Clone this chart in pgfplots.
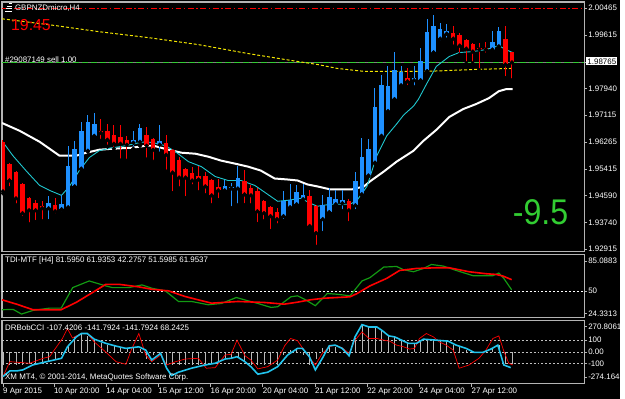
\documentclass[border=0pt]{standalone}
\usepackage{pgfplots}
\pgfplotsset{compat=1.18}
\usepackage{pgfplotstable}
\usepackage{fontspec}
\setmainfont{Liberation Sans}
\definecolor{bullc}{HTML}{1E90FF}
\definecolor{bearc}{HTML}{FF0000}
\definecolor{cyanma}{HTML}{20C8D0}
\definecolor{tdigreen}{HTML}{139A13}
\definecolor{ccicyan}{HTML}{22C4EE}
\definecolor{limeg}{HTML}{32CD32}
\definecolor{framegray}{HTML}{B4B4B4}
\definecolor{histgray}{HTML}{B8B8B8}
\newcommand{\fsm}{\fontsize{8}{9}\selectfont}

\pgfplotstableread{
i o h l c
0 1.96271 1.96333 1.94655 1.94717
1 1.95587 1.95619 1.94811 1.95059
2 1.95339 1.95370 1.94283 1.94500
3 1.94935 1.94966 1.93879 1.94034
4 1.94500 1.94531 1.93692 1.94127
5 1.94345 1.94438 1.93754 1.94127
6 1.94251 1.94407 1.93785 1.94189
8 1.94283 1.94500 1.93972 1.94096
15 1.96613 1.96986 1.96302 1.96551
16 1.96613 1.96830 1.96116 1.96333
17 1.96488 1.96799 1.96053 1.96209
18 1.96426 1.96799 1.95681 1.96209
19 1.96333 1.96457 1.95681 1.96178
22 1.96488 1.96737 1.95712 1.96147
23 1.96364 1.96395 1.95650 1.96022
25 1.96240 1.96488 1.95339 1.95867
26 1.96022 1.96053 1.94655 1.95308
27 1.95712 1.95805 1.94811 1.95152
28 1.95432 1.95463 1.94500 1.95152
29 1.95308 1.95494 1.94873 1.95059
30 1.95215 1.95525 1.94686 1.95090
31 1.95184 1.95339 1.94593 1.94873
32 1.95059 1.95090 1.94283 1.94593
33 1.94842 1.95121 1.94438 1.94749
37 1.95028 1.95401 1.94283 1.94624
38 1.94811 1.94904 1.94283 1.94593
39 1.94717 1.94811 1.93692 1.94096
40 1.94407 1.94438 1.93785 1.94034
41 1.94220 1.94251 1.93475 1.93941
42 1.94065 1.94189 1.93661 1.93848
47 1.94562 1.94749 1.93506 1.93630
48 1.94251 1.94283 1.92978 1.93413
53 1.94407 1.94469 1.93723 1.94127
62 1.98259 1.98570 1.97980 1.98166
69 1.99689 1.99906 1.99254 1.99502
70 1.99627 1.99689 1.99005 1.99285
71 1.99471 1.99502 1.98726 1.99192
72 1.99347 1.99378 1.98726 1.99098
73 1.99223 1.99378 1.98508 1.99160
74 1.99223 1.99409 1.99005 1.99160
77 1.99502 1.99906 1.98259 1.98694
78 1.99098 1.99098 1.98197 1.98757
}\bear

\pgfplotstableread{
i o h l c
7 1.94189 1.94562 1.93785 1.94345
9 1.94158 1.94593 1.94034 1.94314
10 1.94220 1.96147 1.94189 1.95525
11 1.94873 1.96302 1.94842 1.96053
12 1.95432 1.96892 1.95401 1.96613
13 1.95991 1.97110 1.95960 1.96892
14 1.96457 1.97172 1.96426 1.96830
20 1.96240 1.96613 1.96053 1.96333
21 1.96271 1.96830 1.96147 1.96706
24 1.96178 1.96799 1.95898 1.96302
34 1.94749 1.95059 1.94686 1.94873
35 1.94811 1.94966 1.94189 1.94842
36 1.94811 1.95525 1.94283 1.95152
43 1.93941 1.94717 1.93785 1.94407
44 1.94220 1.94935 1.94189 1.94438
45 1.94314 1.94904 1.94283 1.94686
46 1.94469 1.94935 1.94407 1.94593
49 1.93848 1.94593 1.93413 1.94283
50 1.94065 1.94811 1.94034 1.94531
51 1.94314 1.94749 1.94283 1.94469
52 1.94345 1.94749 1.94096 1.94438
54 1.94283 1.95339 1.94096 1.95028
55 1.94624 1.96395 1.94593 1.95805
56 1.95215 1.96364 1.95184 1.96053
57 1.95619 1.97949 1.95587 1.97358
58 1.96457 1.98353 1.96426 1.98042
59 1.97234 1.98632 1.97203 1.98011
60 1.97607 1.99098 1.97576 1.98508
61 1.98042 1.98632 1.98011 1.98446
63 1.98197 1.98632 1.97980 1.98259
64 1.98197 1.99223 1.98166 1.98788
65 1.98477 2.00124 1.98477 1.99720
66 1.99067 2.00248 1.99067 1.99906
67 1.99502 1.99999 1.99378 1.99813
68 1.99658 1.99968 1.99471 1.99751
75 1.99160 1.99751 1.99098 1.99409
76 1.99254 1.99875 1.99254 1.99751
}\bull

\pgfplotsset{
  mtbase/.style={
    scale only axis, width=587pt, xmin=-0.15, xmax=89.06,
    axis line style={framegray, line width=1.2pt},
    tick style={framegray, line width=0.6pt},
    major tick length=3pt, tick align=outside,
    xtick=\empty, ytick pos=right, yticklabel pos=right,
    yticklabel style={font=\fsm, text=white, inner sep=1pt},
    anchor=south west,
  },
  wick/.style={only marks, mark=none, forget plot,
    error bars/.cd, y dir=plus, y explicit, error mark=none,
    error bar style={#1, line width=1pt}},
  body/.style={only marks, mark=none, forget plot,
    error bars/.cd, y dir=plus, y explicit, error mark=none,
    error bar style={#1, line width=4.6pt}},
}

\begin{document}
\begin{tikzpicture}
\fill[black] (0pt,0pt) rectangle (625pt,402pt);

% ---------------- main price panel
\begin{axis}[mtbase, at={(2pt,148pt)}, height=252pt,
  ymin=1.92822, ymax=2.00651,
  ytick={2.00465,1.99615,1.98765,1.97940,1.97115,1.96265,1.95415,1.94590,1.93740,1.92915},
  yticklabels={2.00465,1.99615,,1.97940,1.97115,1.96265,1.95415,1.94590,1.93740,1.92915}]
\addplot[bearc, line width=1pt, dash pattern=on 6pt off 2.5pt on 1.5pt off 2.5pt] coordinates {(-0.15,2.00434) (89.06,2.00434)};
\addplot[gray, line width=0.8pt] coordinates {(-0.15,1.98765) (89.06,1.98765)};
\addplot[limeg, line width=1.2pt, dash pattern=on 6pt off 3pt] coordinates {(-0.15,1.98757) (89.06,1.98757)};
\addplot[yellow!90!olive, line width=1pt, dash pattern=on 3pt off 2pt] coordinates {
(-0.15,2.00124) (7.14,1.99937) (14.74,1.99720) (22.34,1.99533) (29.94,1.99316)
(37.54,1.99036) (45.14,1.98788) (48.18,1.98694) (51.22,1.98570) (55.32,1.98477)
(64.89,1.98477) (72.49,1.98539) (78.12,1.98570)};
\addplot[white, line width=2pt] coordinates {
(-0.15,1.96861) (2.58,1.96613) (5.62,1.96271) (8.66,1.95836) (11.25,1.95836)
(12.77,1.95929) (14.74,1.96022) (16.72,1.96053) (19.76,1.96085) (21.88,1.96147)
(23.10,1.96147) (25.38,1.96022) (27.36,1.95929) (29.48,1.95898) (31.46,1.95805)
(33.43,1.95681) (35.56,1.95587) (37.54,1.95494) (39.51,1.95370) (41.64,1.95121)
(43.62,1.95090) (45.14,1.95059) (46.66,1.94935) (48.18,1.94873) (50.15,1.94780)
(53.50,1.94780) (55.32,1.94873) (56.23,1.95028) (58.36,1.95339) (60.33,1.95650)
(62.92,1.95991) (64.44,1.96302) (66.41,1.96644) (68.39,1.97048) (70.52,1.97296)
(72.49,1.97452) (74.47,1.97638) (75.99,1.97856) (77.05,1.97918) (78.12,1.97918)};
\addplot[cyanma, line width=0.9pt] coordinates {
(-0.15,1.96302) (1.52,1.95836) (3.65,1.95339) (5.62,1.94904) (7.14,1.94749)
(8.97,1.94593) (10.18,1.94873) (11.70,1.95370) (13.22,1.95774) (14.74,1.95991)
(16.72,1.96085) (18.84,1.96147) (20.82,1.96240) (21.88,1.96271) (23.10,1.96240)
(24.92,1.96147) (26.44,1.95960) (28.42,1.95650) (30.40,1.95494) (32.52,1.95184)
(34.50,1.95059) (36.47,1.95059) (38.60,1.94904) (40.58,1.94624) (42.10,1.94407)
(43.62,1.94438) (45.59,1.94500) (47.11,1.94345) (48.18,1.94251) (50.15,1.94314)
(53.19,1.94314) (54.26,1.94438) (55.78,1.94873) (57.29,1.95836) (58.81,1.96457)
(60.33,1.96830) (61.40,1.97110) (62.92,1.97390) (63.68,1.97607) (64.89,1.98073)
(66.41,1.98632) (68.39,1.98943) (69.91,1.99067) (72.04,1.99098) (74.01,1.99160)
(75.53,1.99254) (75.99,1.99285) (77.05,1.99160) (78.12,1.99067)};
\addplot[wick=bearc] table[x=i, y=l, y error expr={\thisrow{h}-\thisrow{l}}] {\bear};
\addplot[wick=bullc] table[x=i, y=l, y error expr={\thisrow{h}-\thisrow{l}}] {\bull};
\addplot[body=bearc] table[x=i, y=c, y error expr={max(\thisrow{o}-\thisrow{c},0.00031)}] {\bear};
\addplot[body=bullc] table[x=i, y=o, y error expr={max(\thisrow{c}-\thisrow{o},0.00031)}] {\bull};
\end{axis}

% ---------------- TDI panel
\begin{axis}[mtbase, at={(2pt,82pt)}, height=63pt,
  ymin=24.3313, ymax=85.0883,
  ytick={79.3,50,28.2}, yticklabels={85.0883,50,24.3313}]
\addplot[white, line width=0.7pt, dash pattern=on 2pt off 2pt] coordinates {(-0.15,50) (89.06,50)};
\addplot[tdigreen, line width=1.2pt] coordinates {
(-0.15,31.76) (1.57,32.05) (2.84,27.51) (4.61,31.08) (7.14,33.30) (8.92,33.30)
(10.69,53.26) (13.22,59.73) (15.76,54.90) (16.77,53.26) (19.30,53.26) (21.32,55.87)
(22.84,52.59) (24.88,50.08) (26.90,39.76) (28.92,39.76) (31.46,36.58) (33.48,37.83)
(35.76,43.62) (37.54,40.44) (39.06,37.83) (41.08,33.98) (42.10,34.65) (44.12,44.30)
(45.14,45.26) (46.20,41.98) (47.87,35.62) (49.70,47.48) (51.22,46.80) (53.19,45.26)
(55.02,59.73) (56.23,62.91) (58.36,73.23) (60.33,73.81) (61.40,70.62) (62.92,68.69)
(64.44,71.88) (65.65,75.73) (67.48,74.19) (69.45,69.95) (72.04,64.84) (75.08,64.84)
(75.99,67.44) (76.75,62.23) (77.96,51.05)};
\addplot[red, line width=1.6pt] coordinates {
(-0.15,41.40) (2.08,37.16) (4.60,31.76) (8.92,31.76) (11.20,38.80) (13.72,48.44)
(15.76,56.45) (17.78,56.45) (20.82,53.94) (22.84,51.62) (25.38,50.08) (27.92,44.58)
(31.96,38.12) (36.02,39.76) (40.08,38.80) (43.12,37.16) (45.14,39.10) (47.11,41.40)
(49.24,42.94) (53.19,44.30) (54.26,47.48) (56.23,54.90) (58.81,62.23) (60.79,69.95)
(63.37,71.88) (66.41,72.55) (68.39,72.55) (71.43,68.69) (74.01,66.77) (75.53,66.09)
(76.60,64.55) (77.96,60.98)};
\end{axis}

% ---------------- CCI panel
\begin{axis}[mtbase, at={(2pt,15pt)}, height=64pt,
  ymin=-274.1643, ymax=270.8061,
  ytick={219.7,100,0,-100,-214.6}, yticklabels={270.8061,100,0.00,-100,-274.1643},
  xtick={0,7.8,15.8,23.8,31.8,39.8,47.8,55.8,63.8,71.8},
  xticklabels={9 Apr 2015,10 Apr 20:00,14 Apr 04:00,15 Apr 12:00,16 Apr 20:00,20 Apr 04:00,21 Apr 12:00,22 Apr 20:00,24 Apr 04:00,27 Apr 12:00},
  xtick pos=bottom,
  xticklabel style={font=\fsm, text=white, anchor=north west, inner sep=1pt, xshift=-1pt}]
\addplot[white!75!black, line width=0.6pt, dash pattern=on 2pt off 2pt] coordinates {(-0.15,100) (89.06,100)};
\addplot[white!75!black, line width=0.6pt, dash pattern=on 2pt off 2pt] coordinates {(-0.15,0) (89.06,0)};
\addplot[white!75!black, line width=0.6pt, dash pattern=on 2pt off 2pt] coordinates {(-0.15,-100) (89.06,-100)};
\addplot[ycomb, histgray, line width=0.6pt, mark=none] coordinates {
(0,-110) (1,-110) (2,-110) (3,-110) (4,-105) (5,-95) (6,-85) (7,-75) (8,-60) (9,-30)
(10,60) (11,130) (12,157) (13,140) (14,100) (15,80) (16,60) (17,50) (18,35) (19,35)
(20,40) (21,25) (22,-60) (23,-30) (24,-15) (25,-110) (26,-110) (27,-110) (28,-110) (29,-110)
(30,-110) (31,-105) (32,-95) (33,-75) (34,-60) (35,-50) (36,-45) (37,-85) (38,-110) (39,-110)
(40,-110) (41,-110) (42,-110) (43,-30) (44,20) (45,30) (46,-30) (47,-110) (48,-60) (49,30)
(50,55) (51,45) (52,0) (53,-25) (54,120) (55,230) (56,215) (57,210) (58,185) (59,135)
(60,128) (61,100) (62,72) (63,72) (64,105) (65,103) (66,100) (67,95) (68,90) (69,55)
(70,40) (71,20) (72,-5) (73,-5) (74,10) (75,30) (76,58) (77,-100) (78,-100)};
\addplot[red, line width=0.7pt] coordinates {
(0,-212.0) (1.06,-84.3) (4.10,-97.9) (6.13,-55.3) (7.14,-41.7) (9.12,115.0) (9.88,200.1)
(10.64,120.1) (12.01,157.5) (12.92,157.5) (13.98,86.0) (15.81,-4.3) (17.33,-84.3)
(18.84,-106.4) (19.76,29.8) (20.82,157.5) (21.88,-27.2) (22.80,-84.3) (24.16,-27.2)
(25.08,-112.4) (26.44,-84.3) (27.96,-61.3) (29.94,-55.3) (31.16,-140.5) (32.52,-135.4)
(34.04,-27.2) (34.95,-21.3) (35.87,100.5) (37.08,-33.2) (37.99,-69.8) (39.06,-146.5)
(40.58,-126.9) (42.10,-69.8) (43.16,51.9) (44.07,115.0) (45.14,96.2) (46.66,-27.2)
(47.87,-112.4) (48.94,-12.8) (50.00,43.4) (50.91,57.9) (51.98,34.9) (53.04,-12.8)
(53.95,100.5) (55.02,171.2) (56.08,115.0) (57.29,115.0) (58.36,100.5) (59.27,92.0)
(60.33,57.9) (61.40,43.4) (62.31,23.8) (63.07,29.8) (63.83,115.0) (64.89,157.5)
(65.96,128.6) (66.87,86.0) (67.93,57.9) (69.00,15.3) (69.91,-140.5) (71.43,-112.4)
(72.95,-55.3) (74.01,15.3) (75.08,115.0) (75.99,137.1) (76.75,6.8) (77.51,-97.9) (78.12,-112.4)};
\addplot[ccicyan, line width=1.6pt] coordinates {
(0,-212.0) (1.06,-163.5) (2.13,-163.5) (3.04,-155.0) (4.56,-112.4) (6.69,-84.3)
(8.97,-55.3) (9.88,43.4) (11.25,128.6) (12.01,157.5) (12.92,157.5) (13.98,109.0)
(15.81,72.4) (17.33,49.4) (18.84,29.8) (20.82,43.4) (21.88,15.3) (22.80,-69.8)
(24.16,-12.8) (25.08,-140.5) (25.84,-203.5) (26.90,-174.6) (28.88,-140.5) (31.00,-112.4)
(32.52,-97.9) (34.04,-61.3) (34.95,-55.3) (35.87,-41.7) (37.08,-84.3) (37.99,-126.9)
(39.06,-191.6) (40.58,-174.6) (42.10,-126.9) (43.62,-27.2) (45.14,29.8) (45.90,29.8)
(46.96,-41.7) (47.87,-155.0) (48.94,-55.3) (50.00,51.9) (50.91,57.9) (51.98,29.8)
(53.04,-33.2) (53.95,128.6) (55.02,234.2) (56.08,213.7) (57.29,213.7) (58.05,185.6)
(59.12,137.1) (60.03,128.6) (61.09,100.5) (62.16,72.4) (63.37,72.4) (64.44,109.0)
(66.41,100.5) (68.24,92.0) (69.45,57.9) (70.97,29.8) (72.19,-4.3) (73.56,-4.3)
(74.77,23.8) (75.84,57.9) (76.75,-112.4) (77.81,-135.4)};
\end{axis}

% ---------------- texts
\node[anchor=west, text=white, font=\fsm, inner sep=0] at (15pt,394pt) {GBPNZDmicro,H4};
\draw[white, line width=0.6pt] (5pt,391pt) -- (12pt,391pt) (6pt,393.5pt) -- (12pt,393.5pt) (7pt,396pt) -- (12pt,396pt) (9pt,398.5pt) -- (12pt,398.5pt);
\node[anchor=west, text=red, font=\fontsize{16}{16}\selectfont, inner sep=0] at (11pt,377pt) {19:45};
\node[anchor=west, text=white, font=\fsm, inner sep=0] at (5pt,342pt) {\#29087149 sell 1.00};
\node[anchor=west, text=limeg, font=\fontsize{36}{36}\selectfont, inner sep=0, xscale=0.9] at (517pt,188pt) {-9.5};
\node[anchor=west, fill=white, text=black, font=\fsm, inner sep=1.2pt] at (591pt,340pt) {1.98765};
\node[anchor=west, text=white, font=\fsm, inner sep=0] at (5pt,139pt) {TDI-MTF [H4] 81.5950 61.9353 42.2757 51.5985 61.9537};
\node[anchor=west, text=white, font=\fsm, inner sep=0] at (5pt,72pt) {DRBobCCI -107.4206 -141.7924 -141.7924 68.2425};
\node[anchor=west, text=white, font=\fsm, inner sep=0] at (5pt,21pt) {XM MT4, © 2001-2014, MetaQuotes Software Corp.};
\end{tikzpicture}
\end{document}
